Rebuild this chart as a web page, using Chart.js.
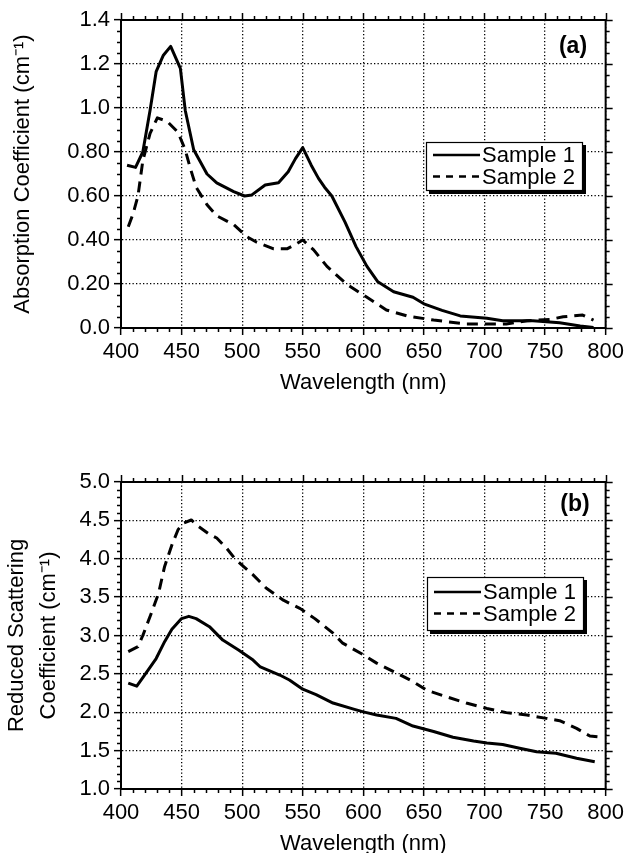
<!DOCTYPE html>
<html>
<head>
<meta charset="utf-8">
<script src="https://cdn.jsdelivr.net/npm/chart.js@4"></script>
<style>
  html, body { margin: 0; padding: 0; background: #fff; overflow: hidden; width: 628px; height: 853px; }
  .panel { position: absolute; left: 0; }
  #panel-a { top: 0; }
  #panel-b { top: 426px; }
</style>
</head>
<body>
<div class="panel" id="panel-a"><canvas id="chart-a" width="628" height="426"></canvas></div>
<div class="panel" id="panel-b"><canvas id="chart-b" width="628" height="440"></canvas></div>
<script>
// wavelength grid shared by both panels
const xTicks = [400, 450, 500, 550, 600, 650, 700, 750, 800];

// (a) absorption coefficient, cm-1
const absYTicks = [0, 0.2, 0.4, 0.6, 0.8, 1.0, 1.2, 1.4];
const absYLabels = ['0.0', '0.20', '0.40', '0.60', '0.80', '1.0', '1.2', '1.4'];
const absWl1 = [405, 412, 418, 424, 429, 435, 441, 449, 453, 460, 471, 479, 493, 502, 508, 519, 530, 538, 544, 550,
    557, 563, 568, 574, 585, 594, 603, 612, 625, 641, 650, 665, 680, 702, 715, 740, 762, 779, 790];
const absS1 = [0.74, 0.73, 0.80, 0.99, 1.165, 1.24, 1.28, 1.18, 0.99, 0.81, 0.70, 0.66, 0.62, 0.60, 0.605, 0.65, 0.66, 0.71, 0.77, 0.82,
    0.74, 0.68, 0.64, 0.60, 0.48, 0.37, 0.28, 0.21, 0.165, 0.14, 0.11, 0.08, 0.055, 0.044, 0.033, 0.033, 0.024, 0.009, 0.002];
const absWl2 = [406, 410, 414, 418, 424, 430, 438, 447, 453, 457, 462, 471, 479, 493, 504, 512, 526, 537, 544, 550,
    559, 570, 586, 603, 619, 636, 658, 685, 707, 718, 735, 754, 765, 781, 790];
const absS2 = [0.46, 0.52, 0.60, 0.76, 0.885, 0.955, 0.94, 0.89, 0.81, 0.73, 0.64, 0.56, 0.51, 0.47, 0.415, 0.39, 0.36, 0.36, 0.38, 0.40,
    0.355, 0.28, 0.20, 0.14, 0.082, 0.055, 0.036, 0.018, 0.018, 0.018, 0.033, 0.039, 0.051, 0.059, 0.036];

// (b) reduced scattering coefficient, cm-1
const scaYTicks = [1.0, 1.5, 2.0, 2.5, 3.0, 3.5, 4.0, 4.5, 5.0];
const scaYLabels = ['1.0', '1.5', '2.0', '2.5', '3.0', '3.5', '4.0', '4.5', '5.0'];
const scaWl1 = [406, 413, 418, 429, 436, 442, 450, 456, 462, 473, 484, 497, 509, 515, 531, 539, 550, 561, 575, 592,
    600, 611, 627, 641, 658, 674, 691, 702, 715, 729, 743, 759, 776, 791];
const scaS1 = [2.38, 2.34, 2.45, 2.70, 2.92, 3.08, 3.22, 3.25, 3.22, 3.115, 2.94, 2.81, 2.68, 2.59, 2.485, 2.42, 2.30, 2.23, 2.12, 2.04,
    2.005, 1.965, 1.92, 1.82, 1.75, 1.675, 1.625, 1.60, 1.58, 1.53, 1.485, 1.465, 1.40, 1.355];
const scaWl2 = [406, 414, 418, 425, 431, 436, 442, 447, 451, 458, 464, 472, 479, 487, 494, 509, 520, 534, 548, 560,
    575, 583, 600, 611, 625, 641, 652, 669, 685, 702, 718, 735, 751, 762, 776, 787, 794];
const scaS2 = [2.79, 2.855, 3.0, 3.29, 3.55, 3.90, 4.18, 4.375, 4.46, 4.505, 4.42, 4.33, 4.27, 4.14, 4.0, 3.79, 3.615, 3.46, 3.35, 3.22,
    3.03, 2.90, 2.75, 2.64, 2.53, 2.40, 2.29, 2.20, 2.12, 2.05, 1.995, 1.965, 1.92, 1.89, 1.79, 1.69, 1.68];

const seriesNames = ['Sample 1', 'Sample 2'];

const FONT = "'Liberation Sans', Arial, Helvetica, sans-serif";

function buildDataset(label, xs, ys, dash) {
    return {
        label: label,
        data: xs.map((x, k) => ({x: x, y: ys[k]})),
        borderColor: '#000',
        backgroundColor: '#000',
        borderWidth: 3,
        borderDash: dash,
        borderJoinStyle: 'round',
        pointRadius: 0,
        tension: 0,
    };
}

// top/right border, minor ticks, legend box and the panel letter
const framePlugin = {
    id: 'frame',
    afterDraw(chart, args, opts) {
        const {ctx, chartArea: a, scales: {x, y}} = chart;
        ctx.save();
        ctx.strokeStyle = '#000';
        ctx.lineWidth = 2;
        ctx.beginPath();
        ctx.moveTo(a.left, a.top);
        ctx.lineTo(a.right, a.top);
        ctx.lineTo(a.right, a.bottom);
        ctx.stroke();

        ctx.lineWidth = 1.5;
        ctx.beginPath();
        for (let k = 0; k <= Math.round((x.max - x.min) / opts.xMinor); k++) {
            const v = x.min + k * opts.xMinor;
            const px = Math.round(x.getPixelForValue(v)) + 0.5;
            const major = k % opts.xEvery === 0;
            const len = major ? 7 : 4;
            ctx.moveTo(px, a.top);
            ctx.lineTo(px, a.top - len);
            if (!major) {
                ctx.moveTo(px, a.bottom);
                ctx.lineTo(px, a.bottom + len);
            }
        }
        for (let k = 0; k <= Math.round((y.max - y.min) / opts.yMinor); k++) {
            const v = y.min + k * opts.yMinor;
            const py = Math.round(y.getPixelForValue(v)) + 0.5;
            const major = k % opts.yEvery === 0;
            const len = major ? 7 : 4;
            ctx.moveTo(a.right, py);
            ctx.lineTo(a.right + len, py);
            if (!major) {
                ctx.moveTo(a.left, py);
                ctx.lineTo(a.left - len, py);
            }
        }
        ctx.stroke();

        // legend box with drop shadow
        const L = opts.legend;
        ctx.fillStyle = '#000';
        ctx.fillRect(L.left + 3, L.top + 3, L.width, L.height);
        ctx.fillStyle = '#fff';
        ctx.fillRect(L.left, L.top, L.width, L.height);
        ctx.lineWidth = 1.2;
        ctx.strokeRect(L.left + 0.5, L.top + 0.5, L.width - 1, L.height - 1);
        ctx.font = `22px ${FONT}`;
        ctx.textBaseline = 'middle';
        ctx.textAlign = 'left';
        chart.data.datasets.forEach((ds, i) => {
            const ly = L.top + L.first + i * L.gap;
            ctx.save();
            ctx.lineWidth = 2.5;
            ctx.setLineDash(i === 0 ? [] : [7, 6]);
            ctx.beginPath();
            ctx.moveTo(L.left + 7, ly);
            ctx.lineTo(L.left + 54, ly);
            ctx.stroke();
            ctx.restore();
            ctx.fillStyle = '#000';
            ctx.fillText(ds.label, L.left + 56, ly + 1);
        });

        ctx.font = `bold 23px ${FONT}`;
        ctx.textAlign = 'center';
        ctx.fillText(opts.tag.text, opts.tag.x, opts.tag.y);
        ctx.restore();
    }
};

function buildConfig(p) {
    return {
        type: 'line',
        data: {
            datasets: [
                buildDataset(seriesNames[0], p.wl1, p.s1, []),
                buildDataset(seriesNames[1], p.wl2, p.s2, [11, 7]),
            ],
        },
        options: {
            responsive: false,
            animation: false,
            events: [],
            layout: {padding: {top: p.top, right: 22, left: 0, bottom: 0}},
            plugins: {
                legend: {display: false},
                tooltip: {enabled: false},
                frame: p.frame,
            },
            scales: {
                x: {
                    type: 'linear',
                    min: 400,
                    max: 800,
                    afterBuildTicks: (s) => { s.ticks = xTicks.map(v => ({value: v})); },
                    afterFit: (s) => { s.height = p.xHeight; },
                    ticks: {color: '#000', font: {family: FONT, size: 22}, padding: 4, maxRotation: 0},
                    grid: {color: '#000', lineWidth: 1.3, tickLength: 7, tickWidth: 1.5},
                    border: {color: '#000', width: 2, dash: [1.3, 2.2]},
                    title: {
                        display: true,
                        text: 'Wavelength (nm)',
                        color: '#000',
                        font: {family: FONT, size: 22},
                        padding: {top: 0, bottom: p.xTitlePad},
                    },
                },
                y: {
                    type: 'linear',
                    min: p.yTicks[0],
                    max: p.yTicks[p.yTicks.length - 1],
                    afterBuildTicks: (s) => { s.ticks = p.yTicks.map(v => ({value: v})); },
                    afterFit: (s) => { s.width = 121; },
                    ticks: {
                        color: '#000',
                        font: {family: FONT, size: 22},
                        padding: 4,
                        callback: (v, i) => p.yLabels[i],
                    },
                    grid: {color: '#000', lineWidth: 1.3, tickLength: 7, tickWidth: 1.5},
                    border: {color: '#000', width: 2, dash: [1.3, 2.2]},
                    title: {
                        display: true,
                        text: p.yTitle,
                        color: '#000',
                        font: {family: FONT, size: 22, lineHeight: p.yTitleLH},
                        padding: {top: p.yTitlePad, bottom: 0},
                    },
                },
            },
        },
        plugins: [framePlugin],
    };
}

window.addEventListener('DOMContentLoaded', () => {
    new Chart('chart-a', buildConfig({
        wl1: absWl1, s1: absS1, wl2: absWl2, s2: absS2,
        yTicks: absYTicks, yLabels: absYLabels,
        yTitle: 'Absorption Coefficient (cm\u207B\u00B9)',
        yTitleLH: 1.2, yTitlePad: 10,
        top: 20, xHeight: 98, xTitlePad: 30,
        frame: {
            xMinor: 10, xEvery: 5, yMinor: 0.05, yEvery: 4,
            legend: {left: 426, top: 142, width: 157, height: 49, first: 13, gap: 21.5},
            tag: {text: '(a)', x: 573, y: 47},
        },
    }));
    new Chart('chart-b', buildConfig({
        wl1: scaWl1, s1: scaS1, wl2: scaWl2, s2: scaS2,
        yTicks: scaYTicks, yLabels: scaYLabels,
        yTitle: ['Reduced Scattering', 'Coefficient (cm\u207B\u00B9)'],
        yTitleLH: 1.44, yTitlePad: 1,
        top: 56, xHeight: 77, xTitlePad: 9,
        frame: {
            xMinor: 10, xEvery: 5, yMinor: 0.1, yEvery: 5,
            legend: {left: 427, top: 151, width: 157, height: 54, first: 15, gap: 21.5},
            tag: {text: '(b)', x: 575, y: 79},
        },
    }));
});
</script>
</body>
</html>
